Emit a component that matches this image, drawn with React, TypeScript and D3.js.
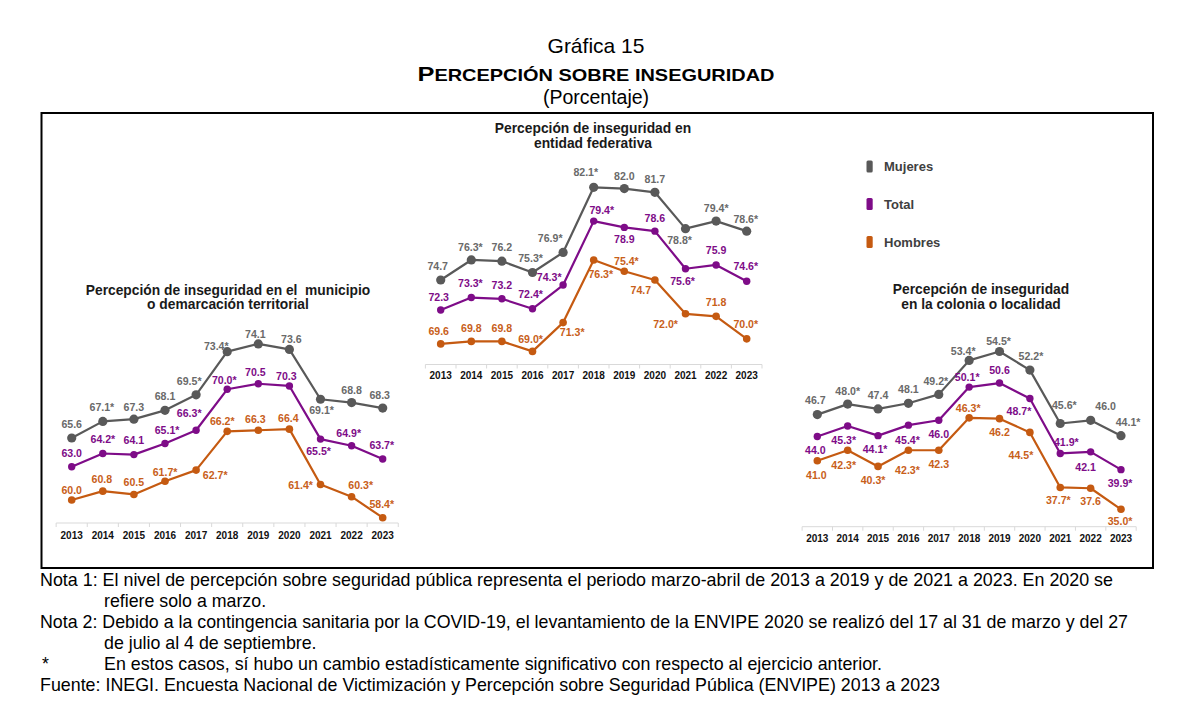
import React from 'react';
import * as d3 from 'd3';

// ---------- DATA ----------
const yearLabels = ['2013', '2014', '2015', '2016', '2017', '2018', '2019', '2020', '2021', '2022', '2023'];

const seriesNames = ['Mujeres', 'Total', 'Hombres'];

const municipioMujeres = [65.6, 67.1, 67.3, 68.1, 69.5, 73.4, 74.1, 73.6, 69.1, 68.8, 68.3];
const municipioMujeresSig = [0, 1, 0, 0, 1, 1, 0, 0, 1, 0, 0];
const municipioTotal = [63.0, 64.2, 64.1, 65.1, 66.3, 70.0, 70.5, 70.3, 65.5, 64.9, 63.7];
const municipioTotalSig = [0, 1, 0, 1, 1, 1, 0, 0, 1, 1, 1];
const municipioHombres = [60.0, 60.8, 60.5, 61.7, 62.7, 66.2, 66.3, 66.4, 61.4, 60.3, 58.4];
const municipioHombresSig = [0, 0, 0, 1, 1, 1, 0, 0, 1, 1, 1];

const entidadMujeres = [74.7, 76.3, 76.2, 75.3, 76.9, 82.1, 82.0, 81.7, 78.8, 79.4, 78.6];
const entidadMujeresSig = [0, 1, 0, 1, 1, 1, 0, 0, 1, 1, 1];
const entidadTotal = [72.3, 73.3, 73.2, 72.4, 74.3, 79.4, 78.9, 78.6, 75.6, 75.9, 74.6];
const entidadTotalSig = [0, 1, 0, 1, 1, 1, 0, 0, 1, 0, 1];
const entidadHombres = [69.6, 69.8, 69.8, 69.0, 71.3, 76.3, 75.4, 74.7, 72.0, 71.8, 70.0];
const entidadHombresSig = [0, 0, 0, 1, 1, 1, 1, 0, 1, 0, 1];

const coloniaMujeres = [46.7, 48.0, 47.4, 48.1, 49.2, 53.4, 54.5, 52.2, 45.6, 46.0, 44.1];
const coloniaMujeresSig = [0, 1, 0, 0, 1, 1, 1, 1, 1, 0, 1];
const coloniaTotal = [44.0, 45.3, 44.1, 45.4, 46.0, 50.1, 50.6, 48.7, 41.9, 42.1, 39.9];
const coloniaTotalSig = [0, 1, 1, 1, 0, 1, 0, 1, 1, 0, 1];
const coloniaHombres = [41.0, 42.3, 40.3, 42.3, 42.3, 46.3, 46.2, 44.5, 37.7, 37.6, 35.0];
const coloniaHombresSig = [0, 1, 1, 1, 0, 1, 0, 1, 1, 0, 1];

const headerTitle = 'Gráfica 15';
const headerSubtitle = '(Porcentaje)';

const notes = [
  'Nota 1: El nivel de percepción sobre seguridad pública representa el periodo marzo-abril de 2013 a 2019 y de 2021 a 2023. En 2020 se',
  'refiere solo a marzo.',
  'Nota 2: Debido a la contingencia sanitaria por la COVID-19, el levantamiento de la ENVIPE 2020 se realizó del 17 al 31 de marzo y del 27',
  'de julio al 4 de septiembre.',
  'En estos casos, sí hubo un cambio estadísticamente significativo con respecto al ejercicio anterior.',
  'Fuente: INEGI. Encuesta Nacional de Victimización y Percepción sobre Seguridad Pública (ENVIPE) 2013 a 2023',
];

// ---------- STYLE / LAYOUT ----------
const COLORS = { Mujeres: '#595959', Total: '#7e0c88', Hombres: '#c55a11' };
const LABEL_COLORS = { Mujeres: '#6a6a6a', Total: '#7e0c88', Hombres: '#c8601a' };
const RADII = { Mujeres: 4.6, Total: 3.7, Hombres: 3.8 };

const ARIAL = '"Liberation Sans", Arial, Helvetica, sans-serif';

type Off = [number, number];

// label offsets (number centre relative to point)
const municipioOffsets: Off[][] = [
  [[0, -14], [-3, -14], [0, -12], [0, -14], [-9, -14], [-13, -5], [-3, -10], [2, -10], [-1, 11], [0, -12], [-3, -13]],
  [[0, -14], [-2, -14], [0, -14], [0, -13], [-9, -17], [-5, -9], [-3, -12], [-3, -10], [-4, 12], [-5, -13], [-3, -14]],
  [[0, -10], [-1, -12], [0, -12], [-2, -9], [17, 5], [-7, -10], [-3, -11], [-1, -11], [-22, 1], [7, -11], [-3, -14]],
];
const entidadOffsets: Off[][] = [
  [[-3, -14], [-3, -13], [0, -14], [-4, -14], [-15, -14], [-10, -15], [0, -12], [0, -13], [-8, 12], [-2, -13], [-3, -12]],
  [[-2, -13], [-3, -14], [0, -14], [-4, -15], [-16, -8], [6, -11], [0, 12], [0, -13], [-5, 12], [0, -15], [-3, -15]],
  [[-2, -13], [0, -13], [0, -13], [-4, -12], [7, 10], [5, 14], [0, -10], [-14, 10], [-22, 10], [0, -14], [-3, -15]],
];
const coloniaOffsets: Off[][] = [
  [[-2, -14], [-2, -13], [0, -14], [0, -14], [-5, -13], [-8, -9], [-3, -10], [-1, -14], [2, -18], [15, -14], [5, -13]],
  [[-2, 14], [-6, 14], [-5, 14], [-3, 15], [0, 14], [-4, -10], [0, -13], [-13, 13], [4, -11], [-5, 15], [-3, 14]],
  [[-1, 14], [-6, 15], [-7, 14], [-3, 20], [0, 14], [-3, -10], [0, 14], [-11, 23], [-4, 13], [0, 13], [-3, 12]],
];

type PanelCfg = {
  title: string[];
  titleX: number;
  titleY: number;
  x0: number;
  x1: number;
  yDomain: [number, number];
  yRange: [number, number];
  axisY: number;
  yearY: number;
  data: number[][];
  sig: number[][];
  offsets: Off[][];
};

const panels: PanelCfg[] = [
  {
    title: ['Percepción de inseguridad en el  municipio', 'o demarcación territorial'],
    titleX: 228,
    titleY: 294.5,
    x0: 71.7,
    x1: 382.7,
    yDomain: [60, 74.1],
    yRange: [500, 343.9],
    axisY: 523,
    yearY: 538.8,
    data: [municipioMujeres, municipioTotal, municipioHombres],
    sig: [municipioMujeresSig, municipioTotalSig, municipioHombresSig],
    offsets: municipioOffsets,
  },
  {
    title: ['Percepción de inseguridad en', 'entidad federativa'],
    titleX: 593,
    titleY: 133,
    x0: 440.7,
    x1: 746.7,
    yDomain: [69.0, 82.1],
    yRange: [351.4, 187.3],
    axisY: 364.5,
    yearY: 379,
    data: [entidadMujeres, entidadTotal, entidadHombres],
    sig: [entidadMujeresSig, entidadTotalSig, entidadHombresSig],
    offsets: entidadOffsets,
  },
  {
    title: ['Percepción de inseguridad', 'en la colonia o localidad'],
    titleX: 981,
    titleY: 294,
    x0: 817.3,
    x1: 1121,
    yDomain: [35.0, 54.5],
    yRange: [509.3, 351.5],
    axisY: 526.7,
    yearY: 541.5,
    data: [coloniaMujeres, coloniaTotal, coloniaHombres],
    sig: [coloniaMujeresSig, coloniaTotalSig, coloniaHombresSig],
    offsets: coloniaOffsets,
  },
];

const LABEL_FS = 10.6;

function numWidth(s: string, fs: number) {
  let w = 0;
  for (const ch of s) w += ch === '.' ? 0.278 : 0.556;
  return w * fs;
}

function Panel({ cfg }: { cfg: PanelCfg }) {
  const x = d3.scalePoint<string>().domain(yearLabels).range([cfg.x0, cfg.x1]).padding(0);
  const y = d3.scaleLinear().domain(cfg.yDomain).range(cfg.yRange);
  const step = x.step();
  const axisStart = cfg.x0 - step / 2;
  const axisEnd = cfg.x1 + step / 2;
  const line = d3
    .line<number>()
    .x((_, i) => x(yearLabels[i]) as number)
    .y((d) => y(d));
  const tickXs = d3.range(yearLabels.length + 1).map((i) => axisStart + i * step);

  return (
    <g>
      {cfg.title.map((t, i) => (
        <text
          key={i}
          x={cfg.titleX}
          y={cfg.titleY + i * 14.7}
          textAnchor="middle"
          fontFamily={ARIAL}
          fontWeight="bold"
          fontSize={13.8}
          fill="#1a1a1a"
          style={{ whiteSpace: 'pre' }}
        >
          {t}
        </text>
      ))}
      <line x1={axisStart} x2={axisEnd} y1={cfg.axisY} y2={cfg.axisY} stroke="#d9d9d9" strokeWidth={1} />
      {tickXs.map((tx, i) => (
        <line key={i} x1={tx} x2={tx} y1={cfg.axisY} y2={cfg.axisY + 4} stroke="#d9d9d9" strokeWidth={1} />
      ))}
      {yearLabels.map((yr) => (
        <text
          key={yr}
          x={x(yr)}
          y={cfg.yearY}
          textAnchor="middle"
          fontFamily={ARIAL}
          fontWeight="bold"
          fontSize={10}
          fill="#111"
        >
          {yr}
        </text>
      ))}
      {cfg.data.map((vals, si) => {
        const name = seriesNames[si] as keyof typeof COLORS;
        return (
          <g key={name}>
            <path d={line(vals) || ''} fill="none" stroke={COLORS[name]} strokeWidth={2.2} strokeLinejoin="round" />
            {vals.map((v, i) => (
              <circle key={i} cx={x(yearLabels[i])} cy={y(v)} r={RADII[name]} fill={COLORS[name]} />
            ))}
          </g>
        );
      })}
      {cfg.data.map((vals, si) => {
        const name = seriesNames[si] as keyof typeof COLORS;
        return (
          <g key={name + 'l'}>
            {vals.map((v, i) => {
              const num = v.toFixed(1);
              const [dx, dy] = cfg.offsets[si][i];
              const cx = (x(yearLabels[i]) as number) + dx;
              const cy = y(v) + dy;
              const w = numWidth(num, LABEL_FS);
              return (
                <text
                  key={i}
                  x={cx - w / 2}
                  y={cy + 3.8}
                  fontFamily={ARIAL}
                  fontWeight="bold"
                  fontSize={LABEL_FS}
                  fill={LABEL_COLORS[name]}
                >
                  {num + (cfg.sig[si][i] ? '*' : '')}
                </text>
              );
            })}
          </g>
        );
      })}
    </g>
  );
}

function Legend() {
  const ys = [166.5, 204, 242];
  return (
    <g>
      {seriesNames.map((n, i) => {
        const name = n as keyof typeof COLORS;
        return (
          <g key={n}>
            <rect x={866.5} y={ys[i] - 6} width={6.2} height={12} rx={1.5} fill={COLORS[name]} />
            <text x={884} y={ys[i] + 4.8} fontFamily={ARIAL} fontWeight="bold" fontSize={13} fill="#404040">
              {n}
            </text>
          </g>
        );
      })}
    </g>
  );
}

export default function App() {
  const noteFs = 17.8;
  const hx = 596;
  return (
    <svg
      width={1200}
      height={711}
      viewBox="0 0 1200 711"
      style={{ position: 'absolute', left: 0, top: 0, background: '#fff' }}
    >
      <rect x={0} y={0} width={1200} height={711} fill="#fff" />
      {/* header */}
      <text x={hx} y={53} textAnchor="middle" fontFamily={ARIAL} fontSize={21} fill="#000">
        {headerTitle}
      </text>
      <text x={hx} y={80.5} textAnchor="middle" fontFamily={ARIAL} fontWeight="bold" fill="#000" textLength={357} lengthAdjust="spacingAndGlyphs">
        <tspan fontSize={21}>P</tspan>
        <tspan fontSize={16.5}>ERCEPCIÓN SOBRE INSEGURIDAD</tspan>
      </text>
      <text x={hx} y={104} textAnchor="middle" fontFamily={ARIAL} fontSize={19.5} fill="#000">
        {headerSubtitle}
      </text>

      {/* frame */}
      <rect x={41.5} y={113} width={1111.5} height={455} fill="none" stroke="#000" strokeWidth={2} />

      {panels.map((p, i) => (
        <Panel key={i} cfg={p} />
      ))}
      <Legend />

      {/* notes */}
      <g fontFamily={ARIAL} fontSize={noteFs} fill="#000">
        <text x={40} y={586} textLength={1073} lengthAdjust="spacingAndGlyphs">{notes[0]}</text>
        <text x={104} y={607}>{notes[1]}</text>
        <text x={40} y={628} textLength={1088} lengthAdjust="spacingAndGlyphs">{notes[2]}</text>
        <text x={104} y={649}>{notes[3]}</text>
        <text x={42} y={670}>*</text>
        <text x={104} y={670} textLength={778} lengthAdjust="spacingAndGlyphs">{notes[4]}</text>
        <text x={40} y={691} textLength={900} lengthAdjust="spacingAndGlyphs">{notes[5]}</text>
      </g>
    </svg>
  );
}
